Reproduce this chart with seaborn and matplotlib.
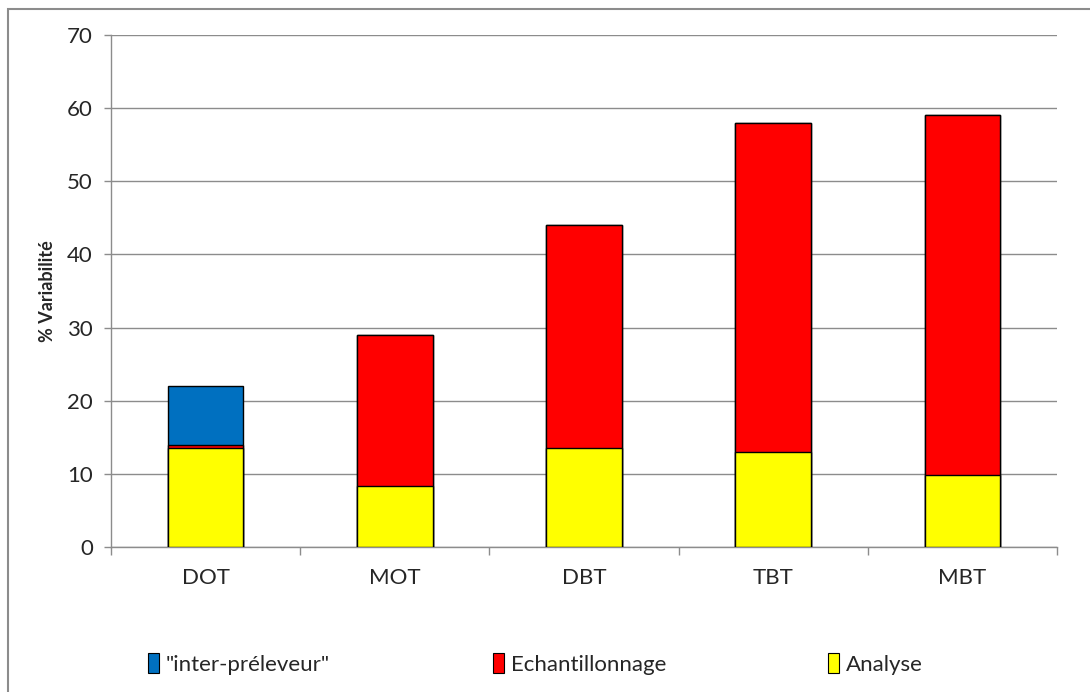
import numpy as np
import pandas as pd
import matplotlib
matplotlib.use("Agg")
import matplotlib.pyplot as plt
import matplotlib.patches as mpatches
import seaborn as sns

categories = ["DOT", "MOT", "DBT", "TBT", "MBT"]
analyse = [13.5, 8.3, 13.5, 13.0, 9.8]
echantillonnage = [0.5, 20.7, 30.5, 45.0, 49.2]
inter_preleveur = [8.0, 0.0, 0.0, 0.0, 0.0]
y_ticks = [0, 10, 20, 30, 40, 50, 60, 70]

series_names = ['"inter-préleveur"', "Echantillonnage", "Analyse"]
series_colors = ["#0070C0", "#FF0000", "#FFFF00"]

sns.set_theme(style="white")
plt.rcParams["font.family"] = ["Lato", "DejaVu Sans"]

df = pd.DataFrame({
    "cat": categories,
    "Analyse": analyse,
    "Echantillonnage": echantillonnage,
    "inter": inter_preleveur,
})
df["top_red"] = df["Analyse"] + df["Echantillonnage"]
df["top_blue"] = df["top_red"] + df["inter"]

fig = plt.figure(figsize=(10.9, 6.92), dpi=100)
ax = fig.add_axes([111 / 1090, 1 - 547 / 692, (1057 - 111) / 1090, (547 - 35) / 692])

for col, color in [("top_blue", series_colors[0]), ("top_red", series_colors[1]), ("Analyse", series_colors[2])]:
    sns.barplot(data=df, x="cat", y=col, color=color, width=0.4, edgecolor="black",
                linewidth=1.0, saturation=1, ax=ax, zorder=3, order=categories)

ax.set_ylim(0, 70)
ax.set_xlim(-0.5, 4.5)
ax.set_yticks(y_ticks)
ax.yaxis.grid(True, color="#8c8c8c", linewidth=1.0, zorder=0)
ax.xaxis.grid(False)
ax.set_axisbelow(True)
for s in ["top", "right"]:
    ax.spines[s].set_visible(False)
for s in ["left", "bottom"]:
    ax.spines[s].set_color("#8c8c8c")
    ax.spines[s].set_linewidth(1.0)
ax.tick_params(axis="y", which="major", length=5, width=1, color="#8c8c8c", labelsize=16, pad=8, left=True)
ax.tick_params(axis="x", which="major", length=0, labelsize=16, pad=15)
ax.set_xticks(np.arange(-0.5, 5.0, 1.0), minor=True)
ax.tick_params(axis="x", which="minor", length=6, width=1, color="#8c8c8c", bottom=True, direction="out")
ax.set_xlabel("")
ax.set_ylabel("% Variabilité", fontsize=13, fontweight="bold", labelpad=8)

# legend entries placed individually
positions = [148 / 1090, 493 / 1090, 828 / 1090]
for name, color, xpos in zip(series_names, series_colors, positions):
    h = mpatches.Patch(facecolor=color, edgecolor="black", linewidth=0.8)
    fig.legend(handles=[h], labels=[name], loc="center left", bbox_to_anchor=(xpos, 1 - 664 / 692),
               frameon=False, fontsize=16, handlelength=0.5, handleheight=1.0, handletextpad=0.3,
               borderaxespad=0, borderpad=0)

frame = mpatches.Rectangle((8 / 1090, -0.05), 1.2, 1 - 9 / 692 + 0.05, transform=fig.transFigure,
                           fill=False, edgecolor="#8c8c8c", linewidth=1.5)
fig.patches.append(frame)

fig.savefig("out.png", dpi=100)
